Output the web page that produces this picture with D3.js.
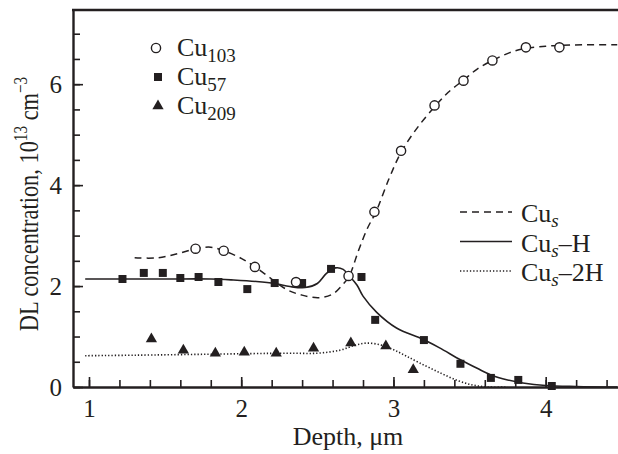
<!DOCTYPE html>
<html>
<head>
<meta charset="utf-8">
<script src="https://cdn.jsdelivr.net/npm/d3@7"></script>
<style>
  body { margin: 0; background: #fff; }
  svg { display: block; }
  text { font-family: "Liberation Serif", "DejaVu Serif", serif; fill: #231f20; }
</style>
</head>
<body>
<script>
// Canvas size
const width = 618;
const height = 454;

// Measured points, [depth um, concentration 1e13 cm^-3]
const cu103 = [[1.70, 2.74], [1.885, 2.70], [2.09, 2.38], [2.36, 2.08], [2.705, 2.20],
    [2.875, 3.47], [3.05, 4.68], [3.27, 5.58], [3.46, 6.07], [3.65, 6.47],
    [3.87, 6.73], [4.09, 6.73]];
const cu57 = [[1.22, 2.14], [1.36, 2.26], [1.485, 2.26], [1.60, 2.16], [1.72, 2.18],
    [1.85, 2.08], [2.04, 1.94], [2.22, 2.06], [2.40, 2.06], [2.59, 2.34],
    [2.79, 2.18], [2.88, 1.33], [3.20, 0.93], [3.44, 0.46], [3.64, 0.18],
    [3.82, 0.14], [4.04, 0.02]];
const cu209 = [[1.41, 0.95], [1.62, 0.73], [1.83, 0.67], [2.02, 0.69], [2.23, 0.67],
    [2.475, 0.77], [2.72, 0.87], [2.95, 0.81], [3.13, 0.34]];

// Calculated profiles
const cusCurve = [[1.30, 2.56], [1.45, 2.56], [1.58, 2.64], [1.70, 2.74], [1.80, 2.77],
    [1.885, 2.70], [2.0, 2.55], [2.09, 2.38], [2.2, 2.14], [2.3, 1.93], [2.4, 1.82],
    [2.51, 1.77], [2.60, 1.84], [2.67, 2.04], [2.71, 2.20], [2.77, 2.70], [2.83, 3.15],
    [2.885, 3.47], [2.97, 4.12], [3.05, 4.65], [3.16, 5.15], [3.27, 5.55], [3.36, 5.84],
    [3.46, 6.08], [3.55, 6.30], [3.65, 6.47], [3.76, 6.62], [3.87, 6.71], [4.0, 6.75],
    [4.09, 6.77], [4.25, 6.78], [4.47, 6.78]];
const cusHCurve = [[0.975, 2.14], [1.2, 2.14], [1.5, 2.14], [1.8, 2.14], [1.95, 2.12],
    [2.1, 2.09], [2.22, 2.05], [2.32, 1.99], [2.42, 1.97], [2.5, 2.05], [2.56, 2.25],
    [2.62, 2.36], [2.67, 2.33], [2.71, 2.20], [2.76, 2.02], [2.80, 1.80], [2.89, 1.48],
    [3.02, 1.17], [3.19, 0.95], [3.30, 0.78], [3.44, 0.54], [3.55, 0.37], [3.64, 0.24],
    [3.75, 0.14], [3.85, 0.08], [4.0, 0.03], [4.2, 0.01], [4.47, 0.0]];
const cus2HCurve = [[0.975, 0.62], [1.3, 0.63], [1.8, 0.65], [2.3, 0.67], [2.5, 0.67],
    [2.65, 0.73], [2.75, 0.83], [2.83, 0.87], [2.92, 0.83], [3.0, 0.74], [3.08, 0.62],
    [3.17, 0.48], [3.3, 0.29], [3.42, 0.13], [3.52, 0.04], [3.62, 0.0], [3.75, 0.0]];

// Ticks
const xMajor = [1, 2, 3, 4];
const xMinor = d3.range(1, 4.45, 0.2);
const yMajor = [0, 2, 4, 6];
const yMinor = d3.range(0, 7.01, 0.5);

// Plot box
const margin = {top: 10, right: 0, bottom: 67, left: 73};
const x = d3.scaleLinear().domain([0.895, 4.475]).range([margin.left, width - margin.right]);
const y = d3.scaleLinear().domain([0, 7.47]).range([height - margin.bottom, margin.top]);

const svg = d3.select("body").append("svg")
    .attr("width", width)
    .attr("height", height);

const ink = "#231f20";

// Curves
const line = d3.line()
    .x(d => x(d[0]))
    .y(d => y(d[1]))
    .curve(d3.curveCatmullRom.alpha(0.5));

svg.append("path").datum(cusCurve)
    .attr("d", line).attr("fill", "none").attr("stroke", ink)
    .attr("stroke-width", 1.5).attr("stroke-dasharray", "7,5");
svg.append("path").datum(cusHCurve)
    .attr("d", line).attr("fill", "none").attr("stroke", ink)
    .attr("stroke-width", 1.6);
svg.append("path").datum(cus2HCurve)
    .attr("d", line).attr("fill", "none").attr("stroke", ink)
    .attr("stroke-width", 1.6).attr("stroke-dasharray", "1.3,2");

// Markers
const sq = d3.symbol().type(d3.symbolSquare).size(64);
const tri = d3.symbol().type(d3.symbolTriangle).size(55);

svg.append("g").selectAll("path").data(cu57).join("path")
    .attr("d", sq)
    .attr("transform", d => `translate(${x(d[0])},${y(d[1])})`)
    .attr("fill", ink);
svg.append("g").selectAll("path").data(cu209).join("path")
    .attr("d", tri)
    .attr("transform", d => `translate(${x(d[0])},${y(d[1])})`)
    .attr("fill", ink);
svg.append("g").selectAll("circle").data(cu103).join("circle")
    .attr("cx", d => x(d[0]))
    .attr("cy", d => y(d[1]))
    .attr("r", 4.6)
    .attr("fill", "#fff")
    .attr("stroke", ink)
    .attr("stroke-width", 1.4);

// Axes, ticks pointing inward
const xAxisY = y(0);
svg.append("g")
    .attr("transform", `translate(0,${xAxisY})`)
    .call(d3.axisBottom(x).tickValues(xMinor).tickSize(-7).tickFormat(""))
    .call(g => g.select(".domain").remove());
svg.append("g")
    .attr("transform", `translate(0,${xAxisY})`)
    .call(d3.axisBottom(x).tickValues(xMajor).tickSize(-10).tickPadding(12).tickSizeOuter(0)
        .tickFormat(d3.format("d")));

svg.append("g")
    .attr("transform", `translate(${margin.left},0)`)
    .call(d3.axisLeft(y).tickValues(yMinor).tickSize(-7).tickFormat(""))
    .call(g => g.select(".domain").remove());
svg.append("g")
    .attr("transform", `translate(${margin.left},0)`)
    .call(d3.axisLeft(y).tickValues(yMajor).tickSize(-10).tickPadding(11).tickSizeOuter(0)
        .tickFormat(d3.format("d")));

svg.selectAll(".tick line").attr("stroke", ink).attr("stroke-width", 1.6);
svg.selectAll(".domain").attr("stroke", ink).attr("stroke-width", 2.4);
svg.selectAll(".tick text")
    .attr("font-family", "Liberation Serif, serif")
    .attr("font-size", 25)
    .attr("fill", ink);

// Top frame line
svg.append("line")
    .attr("x1", margin.left - 1).attr("x2", width)
    .attr("y1", margin.top).attr("y2", margin.top)
    .attr("stroke", ink).attr("stroke-width", 2.6);

// Axis titles
svg.append("text")
    .attr("x", 348).attr("y", 445)
    .attr("text-anchor", "middle")
    .attr("font-size", 26)
    .text("Depth, μm");

const yt = svg.append("text")
    .attr("transform", "translate(38,204) rotate(-90) scale(0.8,1)")
    .attr("text-anchor", "middle")
    .attr("font-size", 28);
yt.append("tspan").text("DL concentration, 10");
yt.append("tspan").attr("dy", -11).attr("font-size", 19).text("13");
yt.append("tspan").attr("dy", 11).text(" cm");
yt.append("tspan").attr("dy", -11).attr("font-size", 19).text("−3");

// Legend for measured points
const legendPts = [
    {name: "Cu", sub: "103", kind: "circle"},
    {name: "Cu", sub: "57", kind: "square"},
    {name: "Cu", sub: "209", kind: "triangle"}
];
legendPts.forEach((d, i) => {
    const cy = 48 + i * 29;
    if (d.kind === "circle") {
        svg.append("circle").attr("cx", 156).attr("cy", cy).attr("r", 4.6)
            .attr("fill", "#fff").attr("stroke", ink).attr("stroke-width", 1.4);
    } else {
        svg.append("path").attr("d", d.kind === "square" ? sq : tri)
            .attr("transform", `translate(158,${cy})`).attr("fill", ink);
    }
    const t = svg.append("text").attr("x", 177).attr("y", cy + 8).attr("font-size", 26);
    t.append("tspan").text(d.name);
    t.append("tspan").attr("dy", 6).attr("font-size", 19).text(d.sub);
});

// Legend for calculated profiles
const legendLines = [
    {sub: "s", tail: "", dash: "7,5"},
    {sub: "s", tail: "–H", dash: null},
    {sub: "s", tail: "–2H", dash: "1.3,2"}
];
legendLines.forEach((d, i) => {
    const ly = 212 + i * 29.5;
    svg.append("line")
        .attr("x1", 460).attr("x2", 512).attr("y1", ly).attr("y2", ly)
        .attr("stroke", ink).attr("stroke-width", 1.6)
        .attr("stroke-dasharray", d.dash);
    const t = svg.append("text").attr("x", 521).attr("y", ly + 10).attr("font-size", 26);
    t.append("tspan").text("Cu");
    t.append("tspan").attr("dy", 5).attr("font-size", 19).attr("font-style", "italic").text(d.sub);
    if (d.tail) t.append("tspan").attr("dy", -5).text(d.tail);
});
</script>
</body>
</html>
